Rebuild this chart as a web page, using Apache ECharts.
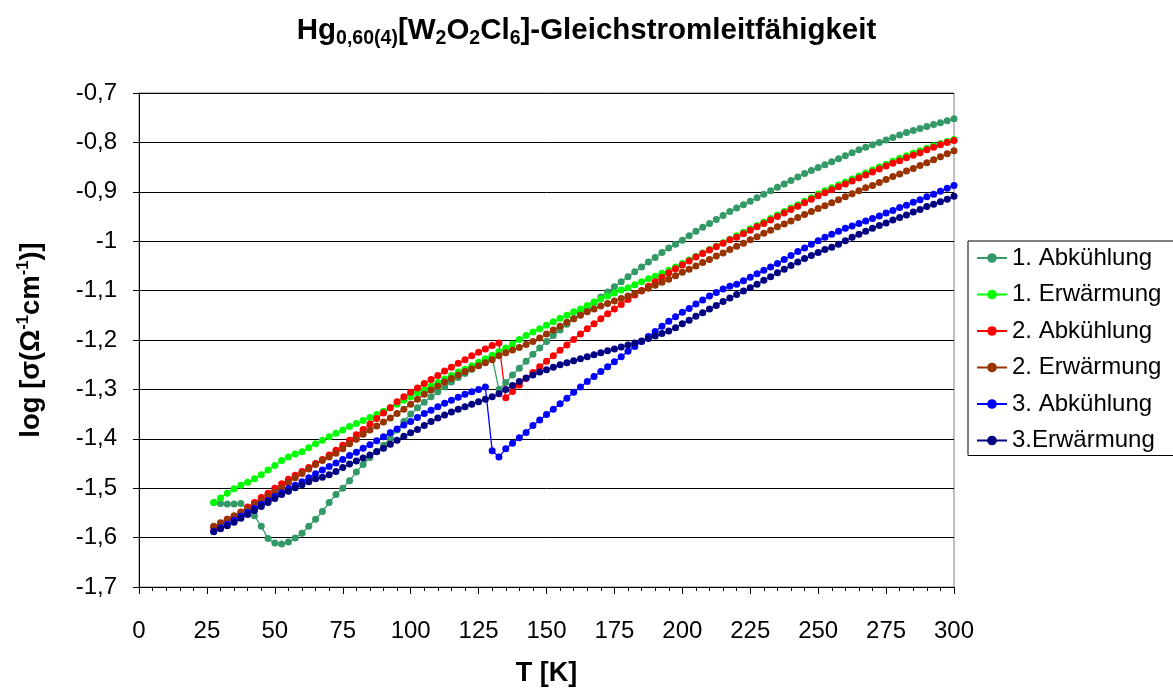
<!DOCTYPE html>
<html>
<head>
<meta charset="utf-8">
<script src="https://cdn.jsdelivr.net/npm/echarts@6/dist/echarts.min.js"></script>
<style>html,body{margin:0;padding:0;background:#fff;}#c{width:1173px;height:692px;}</style>
</head>
<body>
<div id="c"></div>
<script>
// Temperature grid (K), shared by all series
const temps = [27.5,30,32.5,35,37.5,40,42.5,45,47.5,50,52.5,55,57.5,60,62.5,65,67.5,70,72.5,75,77.5,80,82.5,85,87.5,90,92.5,95,97.5,100,
102.5,105,107.5,110,112.5,115,117.5,120,122.5,125,127.5,130,132.5,135,137.5,140,142.5,145,147.5,150,152.5,155,157.5,160,162.5,165,167.5,170,172.5,175,
177.5,180,182.5,185,187.5,190,192.5,195,197.5,200,202.5,205,207.5,210,212.5,215,217.5,220,222.5,225,227.5,230,232.5,235,237.5,240,242.5,245,247.5,250,
252.5,255,257.5,260,262.5,265,267.5,270,272.5,275,277.5,280,282.5,285,287.5,290,292.5,295,297.5,300];

const seriesNames = ["1. Abkühlung","1. Erwärmung","2. Abkühlung","2. Erwärmung","3. Abkühlung","3.Erwärmung"];

const abk1 = [-1.529,-1.531,-1.532,-1.532,-1.531,-1.542,-1.556,-1.577,-1.602,-1.611,-1.613,-1.609,-1.601,-1.591,-1.577,-1.563,-1.547,-1.529,-1.513,-1.500,
-1.485,-1.467,-1.452,-1.438,-1.425,-1.413,-1.399,-1.382,-1.365,-1.350,-1.337,-1.326,-1.315,-1.305,-1.295,-1.285,-1.276,-1.268,-1.259,-1.251,
-1.243,-1.236,-1.300,-1.286,-1.271,-1.257,-1.243,-1.229,-1.216,-1.203,-1.191,-1.180,-1.168,-1.157,-1.146,-1.135,-1.124,-1.113,-1.103,-1.092,
-1.082,-1.072,-1.062,-1.052,-1.042,-1.033,-1.023,-1.014,-1.006,-0.998,-0.989,-0.980,-0.972,-0.964,-0.956,-0.948,-0.940,-0.933,-0.926,-0.919,
-0.912,-0.905,-0.898,-0.891,-0.884,-0.877,-0.870,-0.863,-0.857,-0.851,-0.845,-0.839,-0.833,-0.827,-0.821,-0.815,-0.810,-0.805,-0.800,-0.795,
-0.790,-0.785,-0.780,-0.776,-0.772,-0.768,-0.764,-0.760,-0.756,-0.752];

const erw1 = [-1.529,-1.520,-1.510,-1.501,-1.494,-1.488,-1.481,-1.473,-1.463,-1.454,-1.444,-1.437,-1.431,-1.426,-1.418,-1.410,-1.403,-1.396,-1.389,-1.382,
-1.375,-1.369,-1.363,-1.357,-1.351,-1.344,-1.337,-1.330,-1.322,-1.315,-1.307,-1.300,-1.293,-1.286,-1.279,-1.272,-1.265,-1.259,-1.252,-1.245,
-1.238,-1.231,-1.224,-1.216,-1.208,-1.199,-1.191,-1.184,-1.177,-1.170,-1.163,-1.156,-1.150,-1.143,-1.137,-1.130,-1.123,-1.117,-1.111,-1.105,
-1.099,-1.094,-1.088,-1.082,-1.076,-1.071,-1.065,-1.059,-1.052,-1.045,-1.038,-1.031,-1.024,-1.017,-1.010,-1.003,-0.996,-0.989,-0.982,-0.975,
-0.968,-0.961,-0.954,-0.947,-0.940,-0.933,-0.926,-0.919,-0.912,-0.904,-0.898,-0.892,-0.886,-0.880,-0.874,-0.868,-0.862,-0.856,-0.850,-0.844,
-0.838,-0.832,-0.827,-0.822,-0.817,-0.812,-0.807,-0.802,-0.798,-0.794];

const abk2 = [-1.579,-1.571,-1.563,-1.558,-1.548,-1.538,-1.529,-1.519,-1.510,-1.500,-1.491,-1.482,-1.474,-1.466,-1.458,-1.450,-1.442,-1.433,-1.423,-1.413,
-1.403,-1.392,-1.381,-1.370,-1.359,-1.348,-1.337,-1.325,-1.315,-1.306,-1.297,-1.288,-1.280,-1.272,-1.263,-1.255,-1.247,-1.240,-1.232,-1.225,
-1.218,-1.211,-1.206,-1.317,-1.304,-1.291,-1.278,-1.266,-1.254,-1.243,-1.232,-1.221,-1.210,-1.199,-1.188,-1.177,-1.167,-1.157,-1.147,-1.137,
-1.128,-1.118,-1.109,-1.100,-1.091,-1.082,-1.073,-1.064,-1.056,-1.048,-1.040,-1.032,-1.025,-1.018,-1.011,-1.004,-0.997,-0.992,-0.985,-0.978,
-0.971,-0.964,-0.957,-0.950,-0.943,-0.936,-0.929,-0.922,-0.915,-0.908,-0.902,-0.896,-0.890,-0.884,-0.878,-0.872,-0.866,-0.860,-0.854,-0.848,
-0.842,-0.837,-0.831,-0.826,-0.821,-0.815,-0.810,-0.805,-0.800,-0.796];

const erw2 = [-1.577,-1.570,-1.563,-1.556,-1.549,-1.541,-1.533,-1.525,-1.517,-1.508,-1.499,-1.489,-1.479,-1.470,-1.461,-1.452,-1.444,-1.437,-1.429,-1.420,
-1.410,-1.401,-1.391,-1.382,-1.374,-1.366,-1.358,-1.349,-1.340,-1.330,-1.320,-1.310,-1.301,-1.293,-1.285,-1.278,-1.271,-1.264,-1.258,-1.252,
-1.246,-1.240,-1.232,-1.226,-1.220,-1.215,-1.209,-1.203,-1.196,-1.188,-1.180,-1.172,-1.164,-1.157,-1.150,-1.143,-1.137,-1.131,-1.126,-1.121,
-1.116,-1.111,-1.106,-1.101,-1.095,-1.089,-1.083,-1.077,-1.070,-1.063,-1.057,-1.050,-1.043,-1.037,-1.030,-1.024,-1.017,-1.010,-1.004,-0.997,
-0.991,-0.984,-0.978,-0.971,-0.965,-0.959,-0.952,-0.946,-0.940,-0.934,-0.928,-0.922,-0.916,-0.910,-0.904,-0.898,-0.892,-0.887,-0.881,-0.875,
-0.869,-0.864,-0.858,-0.853,-0.847,-0.841,-0.835,-0.829,-0.823,-0.817];

const abk3 = [-1.587,-1.580,-1.573,-1.565,-1.557,-1.549,-1.541,-1.533,-1.525,-1.517,-1.509,-1.501,-1.494,-1.487,-1.479,-1.471,-1.463,-1.456,-1.449,-1.442,
-1.434,-1.427,-1.419,-1.412,-1.404,-1.396,-1.388,-1.380,-1.372,-1.365,-1.357,-1.349,-1.342,-1.335,-1.328,-1.322,-1.316,-1.310,-1.305,-1.300,
-1.295,-1.424,-1.437,-1.420,-1.409,-1.398,-1.387,-1.373,-1.362,-1.351,-1.340,-1.329,-1.318,-1.306,-1.295,-1.284,-1.274,-1.264,-1.254,-1.244,
-1.234,-1.223,-1.213,-1.203,-1.193,-1.183,-1.172,-1.162,-1.153,-1.144,-1.136,-1.127,-1.119,-1.111,-1.104,-1.097,-1.091,-1.087,-1.080,-1.073,
-1.066,-1.059,-1.052,-1.045,-1.037,-1.029,-1.021,-1.014,-1.006,-0.999,-0.992,-0.986,-0.980,-0.974,-0.969,-0.964,-0.959,-0.954,-0.949,-0.943,
-0.938,-0.932,-0.927,-0.921,-0.916,-0.910,-0.905,-0.899,-0.893,-0.887];

const erw3 = [-1.588,-1.582,-1.576,-1.569,-1.561,-1.553,-1.545,-1.537,-1.529,-1.521,-1.513,-1.506,-1.499,-1.493,-1.487,-1.481,-1.478,-1.473,-1.466,-1.458,
-1.451,-1.445,-1.439,-1.433,-1.426,-1.419,-1.411,-1.403,-1.395,-1.388,-1.381,-1.373,-1.365,-1.358,-1.352,-1.346,-1.340,-1.335,-1.330,-1.325,
-1.320,-1.315,-1.309,-1.300,-1.292,-1.284,-1.277,-1.271,-1.265,-1.260,-1.255,-1.250,-1.246,-1.242,-1.238,-1.234,-1.230,-1.226,-1.222,-1.218,
-1.214,-1.210,-1.206,-1.202,-1.197,-1.192,-1.187,-1.182,-1.175,-1.167,-1.160,-1.152,-1.145,-1.137,-1.130,-1.122,-1.115,-1.108,-1.101,-1.094,
-1.087,-1.079,-1.072,-1.064,-1.057,-1.049,-1.042,-1.035,-1.029,-1.023,-1.017,-1.012,-1.006,-0.999,-0.992,-0.986,-0.980,-0.974,-0.968,-0.963,
-0.957,-0.952,-0.947,-0.941,-0.936,-0.930,-0.925,-0.920,-0.915,-0.909];

const seriesValues = [abk1, erw1, abk2, erw2, abk3, erw3];
const seriesColors = ['#339966', '#00ff00', '#ff0000', '#993300', '#0000ff', '#000080'];

const FONT = "'Liberation Sans', Arial, sans-serif";
const chart = echarts.init(document.getElementById('c'), null, {renderer: 'canvas'});

const series = seriesNames.map((name, i) => ({
  name: name,
  type: 'line',
  data: temps.map((t, j) => [t, seriesValues[i][j]]),
  symbol: 'circle',
  symbolSize: 7,
  showSymbol: true,
  lineStyle: {color: seriesColors[i], width: 1.3},
  itemStyle: {color: seriesColors[i]},
  animation: false
}));

chart.setOption({
  backgroundColor: '#ffffff',
  animation: false,
  title: {
    text: '{m|Hg}{s|0,60(4)}{m|[W}{s|2}{m|O}{s|2}{m|Cl}{s|6}{m|]-Gleichstromleitfähigkeit}',
    left: 'center',
    top: 8,
    textStyle: {
      fontFamily: FONT,
      rich: {
        m: {fontSize: 29.5, fontWeight: 'bold', fontFamily: FONT, color: '#000', lineHeight: 36},
        s: {fontSize: 19.5, fontWeight: 'bold', fontFamily: FONT, color: '#000', lineHeight: 20, verticalAlign: 'bottom'}
      }
    }
  },
  legend: {
    orient: 'vertical',
    left: 968,
    top: 241,
    data: seriesNames,
    backgroundColor: '#fff',
    borderColor: '#000',
    borderWidth: 1,
    borderRadius: 0,
    padding: [5, 30, 3, 8],
    itemWidth: 30,
    itemHeight: 12,
    itemGap: 12.5,
    textStyle: {fontFamily: FONT, fontSize: 24, color: '#000', lineHeight: 24, padding: [0, 0, 0, 0]}
  },
  grid: {
    left: 139, right: 219, top: 93, bottom: 102,
    show: true, borderColor: '#808080', borderWidth: 1, backgroundColor: 'transparent',
    containLabel: false
  },
  xAxis: {
    type: 'value',
    min: 0, max: 300, interval: 25,
    name: 'T [K]',
    nameLocation: 'middle',
    nameGap: 73,
    nameTextStyle: {fontFamily: FONT, fontSize: 27, fontWeight: 'bold', color: '#000'},
    axisLine: {show: true, onZero: false, lineStyle: {color: '#000', width: 1}},
    axisTick: {show: true, inside: false, length: 7, lineStyle: {color: '#000'}},
    minorTick: {show: true, splitNumber: 5, length: 4, lineStyle: {color: '#000'}},
    splitLine: {show: false},
    axisLabel: {fontFamily: FONT, fontSize: 24, color: '#000', margin: 32}
  },
  yAxis: {
    type: 'value',
    min: -1.7, max: -0.7, interval: 0.1,
    name: '{m|log [σ(Ω}{u|-1}{m|cm}{u|-1}{m|)]}',
    nameLocation: 'middle',
    nameGap: 92,
    nameRotate: 90,
    nameTextStyle: {
      fontFamily: FONT,
      rich: {
        m: {fontSize: 27.5, fontWeight: 'bold', fontFamily: FONT, color: '#000', lineHeight: 32},
        u: {fontSize: 16.5, fontWeight: 'bold', fontFamily: FONT, color: '#000', lineHeight: 18, verticalAlign: 'top'}
      }
    },
    axisLine: {show: true, onZero: false, lineStyle: {color: '#000', width: 1}},
    axisTick: {show: true, inside: false, length: 6, lineStyle: {color: '#000'}},
    splitLine: {show: true, lineStyle: {color: '#000', width: 1}},
    axisLabel: {
      fontFamily: FONT, fontSize: 24, color: '#000', margin: 22,
      formatter: v => String(parseFloat(v.toFixed(1))).replace('.', ',')
    }
  },
  series: series
});
</script>
</body>
</html>
